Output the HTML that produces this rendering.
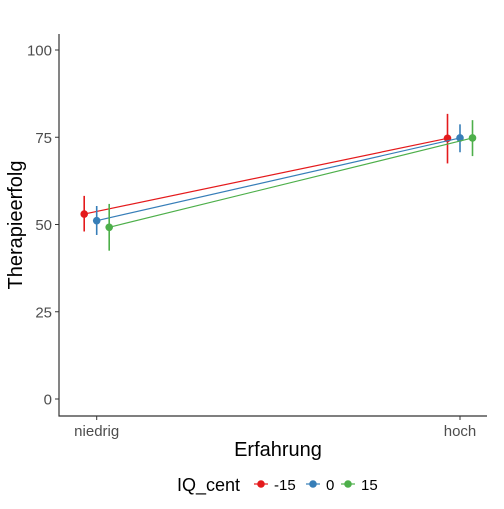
<!DOCTYPE html>
<html><head><meta charset="utf-8"><style>
body{margin:0;background:#fff}
svg text{font-family:"Liberation Sans",sans-serif}
</style></head><body>
<svg id="chart" width="504" height="504" xmlns="http://www.w3.org/2000/svg">
<g id="axes"></g><g id="marks"></g>
<text transform="translate(22,225) rotate(-90)" text-anchor="middle" font-size="20" fill="#000">Therapieerfolg</text>
<text x="278" y="456" text-anchor="middle" font-size="20" fill="#000">Erfahrung</text>
<g>
<text x="177" y="491" font-size="18" fill="#000">IQ_cent</text>
<g id="legend-items"></g>
</g>
</svg>
<script>
const categories=["niedrig","hoch"];
const groups=["-15","0","15"];
const colors=["#e41a1c","#377eb8","#4daf4a"];
const means=[[53.0,74.7],[51.1,74.8],[49.2,74.8]];
const lower=[[48.0,67.5],[47.0,70.7],[42.5,69.6]];
const upper=[[58.2,81.7],[55.3,78.7],[55.9,79.9]];
const yTicks=[0,25,50,75,100];
const NS="http://www.w3.org/2000/svg";
const y=v=>399-3.49*v;
const xc=i=>96.7+i*363.3;
const dodge=[-12.5,0,12.5];
function mk(t,a,p){const e=document.createElementNS(NS,t);for(const k in a)e.setAttribute(k,a[k]);p.appendChild(e);return e;}
const ax=document.getElementById('axes');
const al=mk('line',{x1:59,y1:34,x2:59,y2:416.5,stroke:'#333','stroke-width':1.2},ax);

const bl=mk('line',{x1:58.5,y1:416,x2:487,y2:416,stroke:'#333','stroke-width':1.2},ax);

yTicks.forEach(v=>{
 mk('line',{x1:55,x2:59,y1:y(v),y2:y(v),stroke:'#333'},ax);
 const t=mk('text',{x:52,y:y(v)+5.5,'text-anchor':'end','font-size':15,fill:'#4d4d4d'},ax);t.textContent=v;
 
});
categories.forEach((c,i)=>{
 mk('line',{x1:xc(i),x2:xc(i),y1:416,y2:420,stroke:'#333'},ax);
 const t=mk('text',{x:xc(i),y:436,'text-anchor':'middle','font-size':15,fill:'#4d4d4d'},ax);t.textContent=c;
 
});
const mg=document.getElementById('marks');
groups.forEach((g,j)=>{
 const pts=categories.map((c,i)=>[xc(i)+dodge[j],y(means[j][i])]);
 const l=mk('polyline',{points:pts.map(p=>p.join(',')).join(' '),fill:'none',stroke:colors[j],'stroke-width':1.2},mg);
 
 categories.forEach((c,i)=>{
  const x=xc(i)+dodge[j];
  const e=mk('line',{x1:x,x2:x,y1:y(upper[j][i]),y2:y(lower[j][i]),stroke:colors[j],'stroke-width':1.6},mg);
  
  const p=mk('circle',{cx:x,cy:y(means[j][i]),r:3.8,fill:colors[j]},mg);
  
 });
});
const lg=document.getElementById('legend-items');
const lx=[261,313,348];
groups.forEach((g,j)=>{
 mk('line',{x1:lx[j]-7,x2:lx[j]+7,y1:484,y2:484,stroke:colors[j],'stroke-width':1.2},lg);
 const c=mk('circle',{cx:lx[j],cy:484,r:3.8,fill:colors[j]},lg);
 
 const t=mk('text',{x:lx[j]+13,y:490,'font-size':15,fill:'#000'},lg);t.textContent=g;
 
});
</script>
</body></html>
